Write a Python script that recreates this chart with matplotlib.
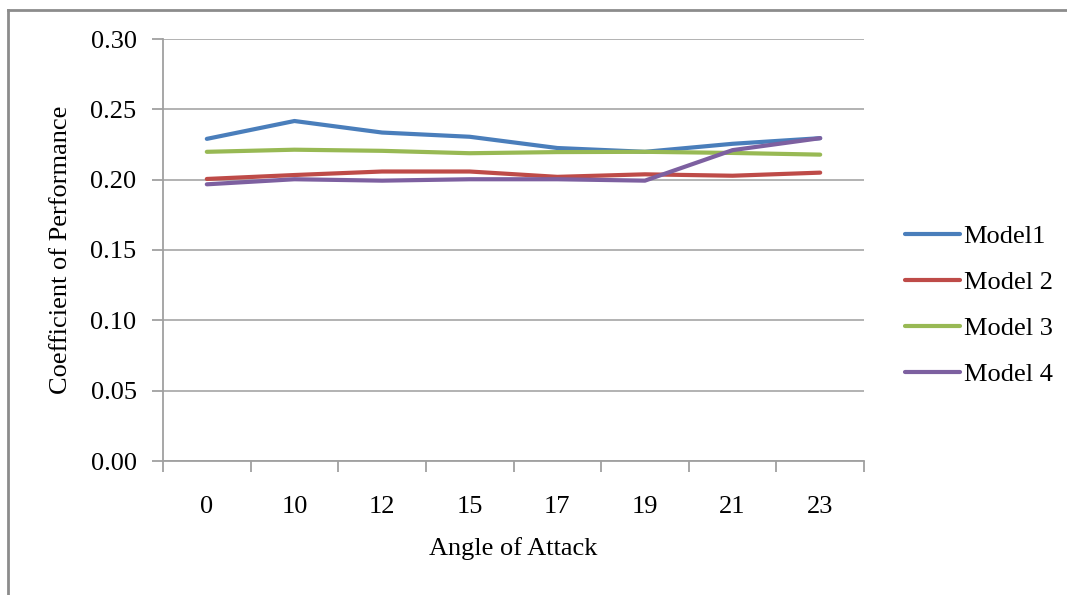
import matplotlib
matplotlib.use("Agg")
import matplotlib.pyplot as plt
from matplotlib.lines import Line2D

angles = ["0", "10", "12", "15", "17", "19", "21", "23"]
model1 = [0.229, 0.2417, 0.2335, 0.2305, 0.2225, 0.2198, 0.2255, 0.2295]
model2 = [0.2005, 0.2033, 0.2058, 0.2058, 0.2020, 0.2038, 0.2028, 0.2050]
model3 = [0.2198, 0.2213, 0.2205, 0.2188, 0.2196, 0.2198, 0.2190, 0.2178]
model4 = [0.1967, 0.2003, 0.1993, 0.2003, 0.2003, 0.1993, 0.2210, 0.2295]
labels = ["Model1", "Model 2", "Model 3", "Model 4"]
colors = ["#4A7EBB", "#BE4B48", "#98B954", "#7D60A0"]

plt.rcParams['font.family'] = ['Liberation Serif', 'DejaVu Serif']
FS = 19

fig = plt.figure(figsize=(10.67, 5.95), dpi=100)
ax = fig.add_axes([163/1067, (595-461)/595, (864-163)/1067, (461-39)/595])

x = list(range(len(angles)))
for vals, lab, c in zip([model1, model2, model3, model4], labels, colors):
    ax.plot(x, vals, color=c, lw=3.0, label=lab, solid_capstyle='round', solid_joinstyle='round')

ax.set_xlim(-0.5, len(angles) - 0.5)
ax.set_ylim(0, 0.30)
yt = [0, 0.05, 0.10, 0.15, 0.20, 0.25, 0.30]
ax.set_yticks(yt)
ax.set_yticklabels([f"{v:.2f}" for v in yt])
ax.yaxis.grid(True, color="#a6a6a6", lw=1.2)
ax.set_axisbelow(True)

ax.set_xticks([i - 0.5 for i in range(len(angles) + 1)])
ax.set_xticklabels([])
ax.set_xticks(x, minor=True)
ax.set_xticklabels(angles, minor=True)
ax.tick_params(axis='x', which='major', length=8, width=1.3, color="#a0a0a0", direction='out')
ax.tick_params(axis='x', which='minor', length=0, pad=25, labelsize=FS)
ax.tick_params(axis='y', which='major', length=8, width=1.3, color="#a0a0a0", direction='out', pad=11, labelsize=FS)

for s in ['top', 'right']:
    ax.spines[s].set_visible(False)
for s in ['left', 'bottom']:
    ax.spines[s].set_color("#a0a0a0")
    ax.spines[s].set_linewidth(1.3)

ax.set_xlabel("Angle of Attack", fontsize=FS, labelpad=14)
ax.set_ylabel("Coefficient of Performance", fontsize=FS, labelpad=13)

handles = [Line2D([0], [0], color=c, lw=3.0, solid_capstyle='round') for c in colors]
fig.legend(handles, labels, loc='center left', bbox_to_anchor=(905/1067, (595-305.5)/595),
           frameon=False, fontsize=FS, handlelength=2.1, handletextpad=0.12,
           labelspacing=0.85, borderpad=0, borderaxespad=0)

# outer chart border (left and top)
fig.add_artist(Line2D([8/1067, 8/1067], [0, (595-10)/595], transform=fig.transFigure, color="#8c8c8c", lw=2))
fig.add_artist(Line2D([8/1067, 1], [(595-10)/595, (595-10)/595], transform=fig.transFigure, color="#8c8c8c", lw=2))

fig.savefig("out.png", dpi=100)
